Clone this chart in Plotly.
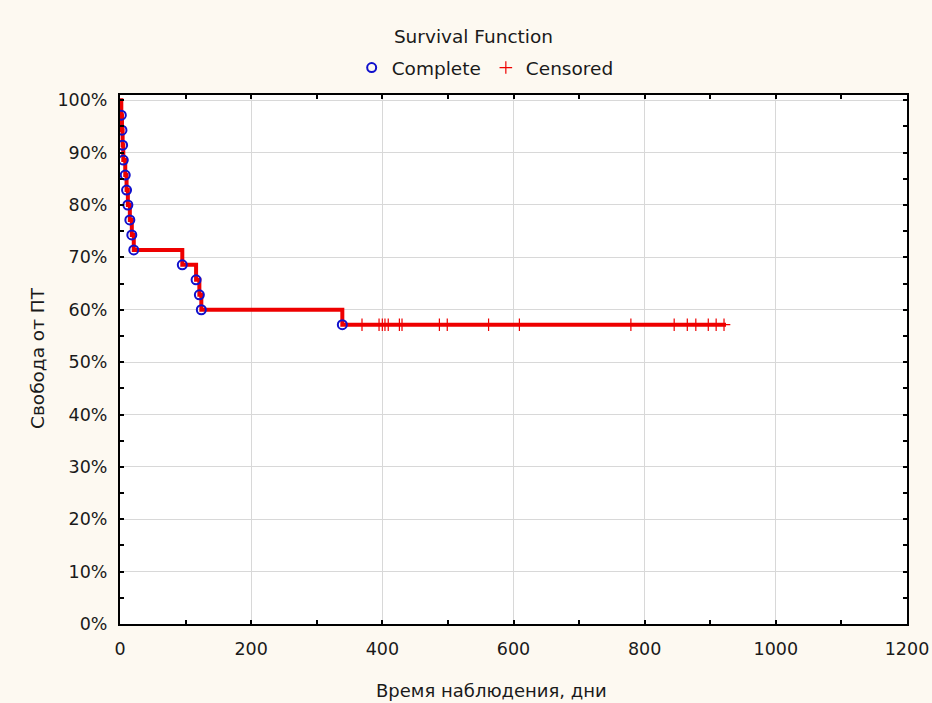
import plotly.graph_objects as go

# Kaplan-Meier data (days, survival fraction)
event_days = [2, 3, 4, 5, 8, 10, 12, 15, 18, 21, 95, 116, 121, 124, 339]
event_surv = [34/35, 33/35, 32/35, 31/35, 30/35, 29/35, 28/35, 27/35, 26/35, 25/35,
              24/35, 23/35, 22/35, 21/35, 20/35]
censored_days = [369, 395, 400, 404, 409, 426, 430, 487, 499, 562, 609,
                 779, 845, 865, 878, 897, 909, 921]
censored_surv = [20/35] * len(censored_days)
x_ticks = [0, 200, 400, 600, 800, 1000, 1200]
y_ticks = [0, 0.1, 0.2, 0.3, 0.4, 0.5, 0.6, 0.7, 0.8, 0.9, 1.0]
y_tick_labels = ["0%", "10%", "20%", "30%", "40%", "50%", "60%", "70%", "80%", "90%", "100%"]

title_text = "Survival Function"
x_title = "Время наблюдения, дни"
y_title = "Свобода от ПТ"

FONT = "DejaVu Sans, Liberation Sans, Arial, sans-serif"
BG = "#FDF9F1"
TXT = "#1a1a1a"

line_x = [0] + event_days + [censored_days[-1] + 3]
line_y = [1.0] + event_surv + [event_surv[-1]]

fig = go.Figure()
fig.add_trace(go.Scatter(
    x=line_x, y=line_y, mode="lines", line=dict(color="#EE0000", width=4, shape="hv"),
    showlegend=False, hoverinfo="skip"))
fig.add_trace(go.Scatter(
    x=event_days, y=event_surv, mode="markers", name="Complete",
    marker=dict(symbol="circle-open", size=9, color="#1010CC", line=dict(width=2, color="#1010CC"))))
fig.add_trace(go.Scatter(
    x=censored_days, y=censored_surv, mode="markers", name="Censored",
    marker=dict(symbol="cross-thin-open", size=9, color="#EE0000", line=dict(width=1.2, color="#EE0000"))))

axis_common = dict(
    showline=True, linecolor="black", linewidth=2, mirror="allticks",
    showgrid=True, gridcolor="#D8D8D8", gridwidth=1, zeroline=False,
    ticks="inside", ticklen=4, tickcolor="black", tickwidth=1.5, automargin=False,
    tickfont=dict(family=FONT, size=17.5, color=TXT),
)

fig.update_xaxes(range=[0, 1200], tickvals=x_ticks, ticklabelstandoff=8,
                 minor=dict(dtick=100, ticks="inside", ticklen=4, tickcolor="black", showgrid=False),
                 **axis_common)
fig.update_yaxes(range=[0, 1.01], tickvals=y_ticks, ticktext=y_tick_labels, ticklabelstandoff=7,
                 minor=dict(dtick=0.05, ticks="inside", ticklen=4, tickcolor="black", showgrid=False),
                 **axis_common)

fig.update_layout(
    width=932, height=703,
    paper_bgcolor=BG, plot_bgcolor="white",
    margin=dict(l=120, r=25, t=95, b=79, autoexpand=False),
    title=dict(text=title_text, x=0.508, xanchor="center", xref="container",
               y=1 - 37/703, yanchor="middle", yref="container",
               font=dict(family=FONT, size=18.5, color=TXT)),
    legend=dict(orientation="h", x=0.464, xanchor="center", y=1.051, yanchor="middle",
                bgcolor="rgba(0,0,0,0)", font=dict(family=FONT, size=18.5, color=TXT),
                itemwidth=30, tracegroupgap=0),
    annotations=[
        dict(text=x_title, xref="paper", yref="paper", x=(491-120)/787, y=-(690-624)/529,
             xanchor="center", yanchor="middle", showarrow=False,
             font=dict(family=FONT, size=18, color=TXT)),
        dict(text=y_title, xref="paper", yref="paper", x=-(120-37)/787, y=(624-358)/529,
             xanchor="center", yanchor="middle", showarrow=False, textangle=-90,
             font=dict(family=FONT, size=18.5, color=TXT)),
    ],
    font=dict(family=FONT),
)

fig.write_html("out.html", config={"displayModeBar": False},
               post_script="document.body.style.margin='0';document.body.style.background='%s';" % BG)
